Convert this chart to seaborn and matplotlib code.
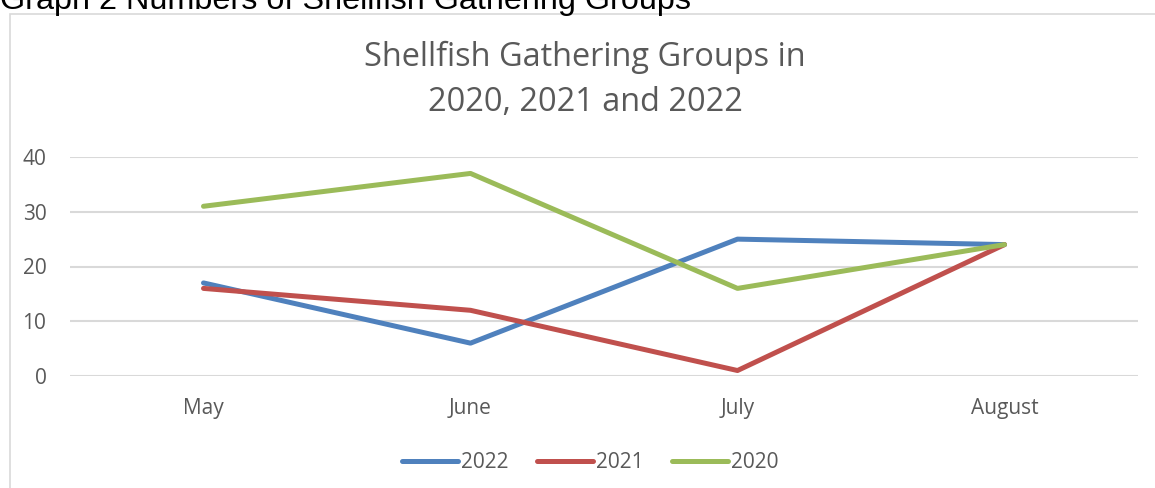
import pandas as pd
import matplotlib.pyplot as plt
import seaborn as sns
from matplotlib.patches import Rectangle

# data
months = ['May', 'June', 'July', 'August']
groups_2022 = [17, 6, 25, 24]
groups_2021 = [16, 12, 1, 24]
groups_2020 = [31, 37, 16, 24]
years = ['2022', '2021', '2020']
colors = ['#4f81bd', '#c0504d', '#9bbb59']

df = pd.DataFrame({
    'Month': months * 3,
    'Groups': groups_2022 + groups_2021 + groups_2020,
    'Year': [y for y in years for _ in months],
})

sns.set_style('white')
plt.rcParams['font.family'] = ['Open Sans', 'DejaVu Sans']

fig = plt.figure(figsize=(11.55, 4.88), dpi=100)
W, H = 1155, 488

# outer chart frame
fig.patches.append(Rectangle((10 / W, -0.1), 1.2, (488 - 14) / H + 0.1,
                             transform=fig.transFigure, fill=False,
                             edgecolor='#d9d9d9', linewidth=1.2))

# caption above the chart (cut off at the top)
fig.text(0 / W, 1 - 9 / H, 'Graph 2 Numbers of Shellfish Gathering Groups',
         family='Liberation Sans', fontsize=23.3, color='black',
         ha='left', va='baseline')

ax = fig.add_axes([70 / W, (488 - 376) / H, (1138 - 70) / W, (376 - 157) / H])
sns.lineplot(data=df, x='Month', y='Groups', hue='Year', hue_order=years,
             palette=colors, linewidth=3.6, ax=ax, sort=False,
             solid_capstyle='round', solid_joinstyle='round')

ax.set_xlim(-0.5, 3.5)
ax.set_ylim(0, 40)
ax.set_yticks([0, 10, 20, 30, 40])
ax.grid(axis='y', color='#d9d9d9', linewidth=1.5)
ax.set_axisbelow(True)
for s in ax.spines.values():
    s.set_visible(False)
ax.tick_params(length=0, labelsize=15, labelcolor='#595959')
ax.tick_params(axis='y', pad=17)
ax.tick_params(axis='x', pad=16)
ax.set_xlabel('')
ax.set_ylabel('')

fig.text(585 / W, 1 - 80 / H, 'Shellfish Gathering Groups in\n2020, 2021 and 2022',
         fontsize=23.4, color='#595959', ha='center', va='center',
         linespacing=1.45)

handles, labels = ax.get_legend_handles_labels()
ax.get_legend().remove()
fig.legend(handles, labels, loc='center', bbox_to_anchor=(590 / W, 1 - 463 / H),
           ncol=3, frameon=False, fontsize=15, labelcolor='#595959',
           handlelength=2.7, handletextpad=0.15, columnspacing=1.35)

fig.savefig('out.png', dpi=100)
